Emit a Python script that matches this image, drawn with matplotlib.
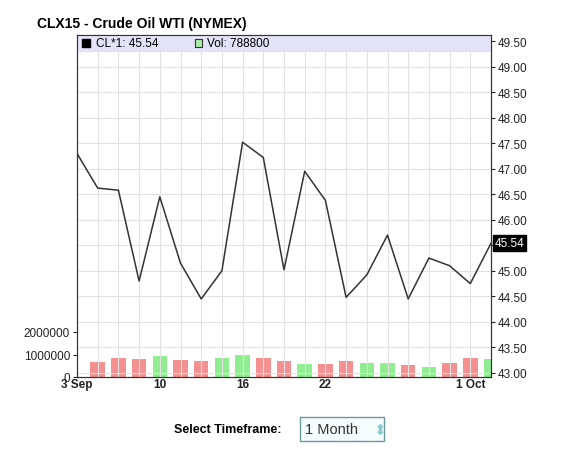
import numpy as np
import matplotlib.pyplot as plt
from matplotlib.patches import Rectangle

plt.rcParams['font.family'] = ['Liberation Sans', 'DejaVu Sans']

# ---- data ----
close = [47.30, 46.62, 46.58, 44.80, 46.45, 45.15, 44.45, 45.00, 47.52, 47.22, 45.02,
         46.95, 46.38, 44.48, 44.92, 45.70, 44.45, 45.25, 45.10, 44.75, 45.54]
vol_idx = list(range(1, 21))
volume = [650000, 850000, 800000, 950000, 750000, 700000, 850000, 1000000, 850000, 700000,
          580000, 580000, 700000, 630000, 630000, 520000, 450000, 630000, 850000, 788800]
up_day = [False, False, False, True, False, False, True, True, False, False,
          True, False, False, True, True, False, True, False, False, True]
date_ticks = [0, 4, 8, 12, 19]
date_labels = ['3 Sep', '10', '16', '22', '1 Oct']
price_ticks = np.arange(43.0, 49.51, 0.5)

fig = plt.figure(figsize=(5.77, 4.52), dpi=100)
ax = fig.add_axes([77/577, 1-378/452, 414/577, 342/452])
x = np.arange(len(close))

# volume on a twin axis with ticks on the left
axv = ax.twinx()
ax.yaxis.tick_right()
axv.yaxis.tick_left()
axv.bar(vol_idx, volume, width=0.7, color=['#90ee90' if u else '#f59090' for u in up_day], zorder=2)
axv.set_ylim(0, 15.2e6)
axv.set_yticks([0, 1000000, 2000000])
axv.set_yticklabels(['0', '1000000', '2000000'])

ax.plot(x, close, color='#333333', lw=1.1, zorder=3)
ax.set_xlim(0, 20)
ax.set_ylim(42.92, 49.62)
ax.set_yticks(price_ticks)
ax.set_yticklabels(['' if abs(v - 45.5) < 1e-6 else f'{v:.2f}' for v in price_ticks])
ax.set_xticks(x, minor=True)
ax.set_xticks(date_ticks)
ax.set_xticklabels(date_labels, fontweight='bold')
ax.grid(True, which='both', color='#e2e2e2', lw=0.8)
ax.set_axisbelow(True)
ax.set_zorder(axv.get_zorder() + 1)
ax.patch.set_visible(False)
axv.set_facecolor('white')

for a in (ax, axv):
    a.tick_params(labelsize=8.5, length=3, pad=2, colors='#222222')
    a.tick_params(which='minor', length=0)
    for s in a.spines.values():
        s.set_color('#333333')
ax.tick_params(axis='x', length=0, pad=1)

# legend band
ax.add_patch(Rectangle((0, 1-16/342), 1, 16/342, transform=ax.transAxes,
                       color='#e2e2f8', zorder=1))
ax.add_patch(Rectangle((0.013, 1-12/342), 0.018, 8/342, transform=ax.transAxes,
                       fc='black', ec='black', zorder=4))
ax.text(0.045, 1-8/342, 'CL*1: 45.54', transform=ax.transAxes, va='center', fontsize=8.5)
ax.add_patch(Rectangle((0.285, 1-12/342), 0.018, 8/342, transform=ax.transAxes,
                       fc='#a8f0a8', ec='#333333', lw=0.8, zorder=4))
ax.text(0.315, 1-8/342, 'Vol: 788800', transform=ax.transAxes, va='center', fontsize=8.5)

# last-price marker on right axis
ax.text(1.008, close[-1], f'{close[-1]:.2f}', transform=ax.get_yaxis_transform(),
        va='center', ha='left', fontsize=8.5, color='white',
        bbox=dict(boxstyle='square,pad=0.15', fc='black', ec='black'))

fig.text(37/577, 1-24/452, 'CLX15 - Crude Oil WTI (NYMEX)', fontsize=10, fontweight='bold', va='center')
fig.text(281/577, 1-430/452, 'Select Timeframe:', fontsize=9, fontweight='bold', ha='right', va='center')
fig.text(305/577, 1-430/452, '1 Month     ', fontsize=10.5, color='#333333', va='center',
         bbox=dict(boxstyle='square,pad=0.35', fc='#f6fdfd', ec='#6a9a9a'))
fig.text(373/577, 1-430/452, '\u2b0d', fontsize=11, color='#8ccccc', va='center',
         family='DejaVu Sans')

fig.savefig('out.png', dpi=100)
